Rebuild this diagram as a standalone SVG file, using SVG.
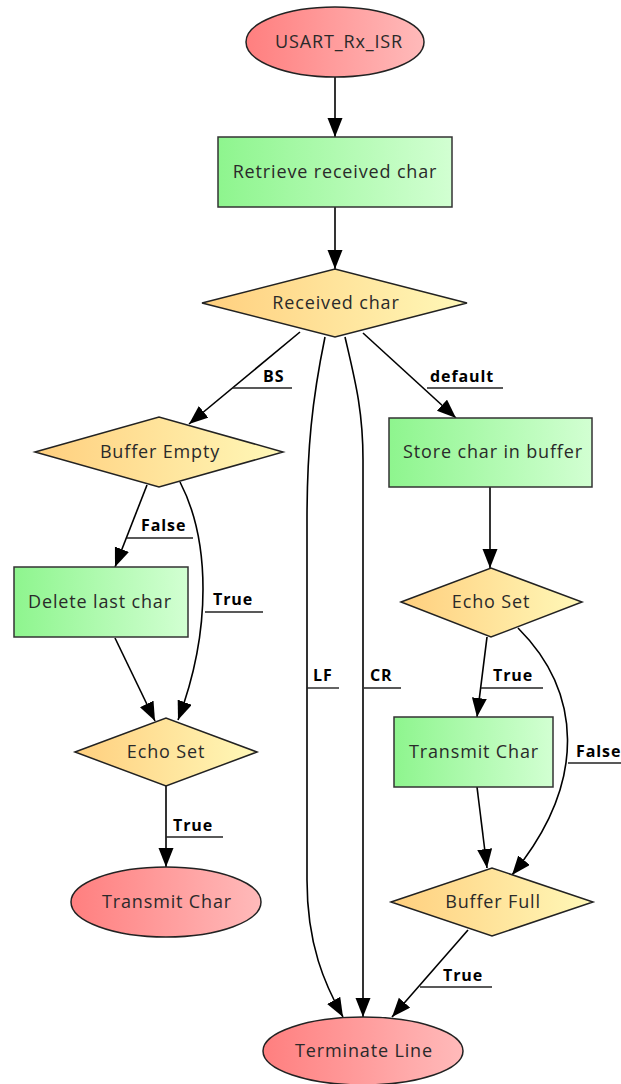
<svg xmlns="http://www.w3.org/2000/svg" width="621" height="1084" viewBox="0 0 621 1084">
<defs>
<linearGradient id="gGreen" x1="0" y1="0" x2="1" y2="0"><stop offset="0" stop-color="#8ef58e"/><stop offset="1" stop-color="#d2ffd2"/></linearGradient>
<linearGradient id="gRed" x1="0" y1="0" x2="1" y2="0"><stop offset="0" stop-color="#ff7f7f"/><stop offset="1" stop-color="#ffbaba"/></linearGradient>
<linearGradient id="gYel" x1="0" y1="0" x2="1" y2="0"><stop offset="0" stop-color="#ffcf7e"/><stop offset="1" stop-color="#fff8b8"/></linearGradient>
<marker id="ah" markerUnits="userSpaceOnUse" markerWidth="22" markerHeight="16" refX="19" refY="7.5" orient="auto"><path d="M0,0 L19,7.5 L0,15 Z" fill="#000"/></marker>
<style>
.box{fill:url(#gGreen);stroke:#333;stroke-width:1.5}
.term{fill:url(#gRed);stroke:#222;stroke-width:1.5}
.dec{fill:url(#gYel);stroke:#222;stroke-width:1.5}
.nt{font-family:"Open Sans","Noto Sans",sans-serif;font-size:18px;fill:#2a2a2a;text-anchor:middle;letter-spacing:0.85px}
.edge{fill:none;stroke:#000;stroke-width:1.6;marker-end:url(#ah)}
.el{font-family:"Open Sans","Noto Sans",sans-serif;font-size:16px;font-weight:bold;fill:#000;letter-spacing:0.9px}
.ul{stroke:#222;stroke-width:1.4;fill:none}
</style>
</defs>
<g id="connectors">
<path class="edge" d="M335,77 L335,137"/>
<path class="edge" d="M335,207 L335,269"/>
<path class="edge" d="M300,332 L189,424"/>
<path class="edge" d="M363,333 L456,418"/>
<path class="edge" d="M325,337 C312,400 307,450 307,520 L307,880 C307,945 325,985 343,1017"/>
<path class="edge" d="M345,337 C355,380 363,410 363,460 L363,1017"/>
<path class="edge" d="M147,485 L115,567"/>
<path class="edge" d="M180,482 C210,540 212,630 178,720"/>
<path class="edge" d="M115,638 L155,721"/>
<path class="edge" d="M166,786 L166,867"/>
<path class="edge" d="M490,487 L490,568"/>
<path class="edge" d="M487,637 L477,717"/>
<path class="edge" d="M518,628 C580,690 590,780 512,875"/>
<path class="edge" d="M477,787 L487,868"/>
<path class="edge" d="M468,930 L392,1017"/>
<g id="edge-labels">
<text class="el" x="263" y="382">BS</text><path class="ul" d="M232,388 H292"/>
<text class="el" x="430" y="382">default</text><path class="ul" d="M427,388 H503"/>
<text class="el" x="141" y="531">False</text><path class="ul" d="M127,538 H193"/>
<text class="el" x="213" y="605">True</text><path class="ul" d="M205,612 H263"/>
<text class="el" x="313" y="681">LF</text><path class="ul" d="M307,688 H339"/>
<text class="el" x="370" y="681">CR</text><path class="ul" d="M364,688 H401"/>
<text class="el" x="173" y="831">True</text><path class="ul" d="M166,837 H223"/>
<text class="el" x="493" y="681">True</text><path class="ul" d="M481,688 H543"/>
<text class="el" x="576" y="757">False</text><path class="ul" d="M568,763 H621"/>
<text class="el" x="443" y="981">True</text><path class="ul" d="M420,987 H492"/>
</g>
</g>
<g id="n_isr"><ellipse class="term" cx="335" cy="42" rx="89" ry="35"/><text class="nt" x="339" y="48">USART_Rx_ISR</text></g>
<g id="n_retrieve"><rect class="box" x="218" y="137" width="234" height="70"/><text class="nt" x="335" y="178">Retrieve received char</text></g>
<g id="n_received"><polygon class="dec" points="202,303 335,269 467,303 335,337"/><text class="nt" x="336" y="309">Received char</text></g>
<g id="n_bufempty"><polygon class="dec" points="35,452 159,417 283,452 159,487"/><text class="nt" x="160" y="458">Buffer Empty</text></g>
<g id="n_store"><rect class="box" x="389" y="418" width="203" height="69"/><text class="nt" x="493" y="458">Store char in buffer</text></g>
<g id="n_delete"><rect class="box" x="14" y="567" width="174" height="70"/><text class="nt" x="100" y="608">Delete last char</text></g>
<g id="n_echo_r"><polygon class="dec" points="401,602 491,568 582,602 491,637"/><text class="nt" x="491" y="608">Echo Set</text></g>
<g id="n_echo_l"><polygon class="dec" points="75,752 166,718 257,752 166,786"/><text class="nt" x="166" y="758">Echo Set</text></g>
<g id="n_transmit_r"><rect class="box" x="394" y="717" width="159" height="70"/><text class="nt" x="474" y="758">Transmit Char</text></g>
<g id="n_transmit_l"><ellipse class="term" cx="166" cy="902" rx="95" ry="35"/><text class="nt" x="167" y="908">Transmit Char</text></g>
<g id="n_buffull"><polygon class="dec" points="391,902 492,868 593,902 492,936"/><text class="nt" x="493" y="908">Buffer Full</text></g>
<g id="n_terminate"><ellipse class="term" cx="363" cy="1051" rx="100" ry="34"/><text class="nt" x="364" y="1057">Terminate Line</text></g>
</svg>
